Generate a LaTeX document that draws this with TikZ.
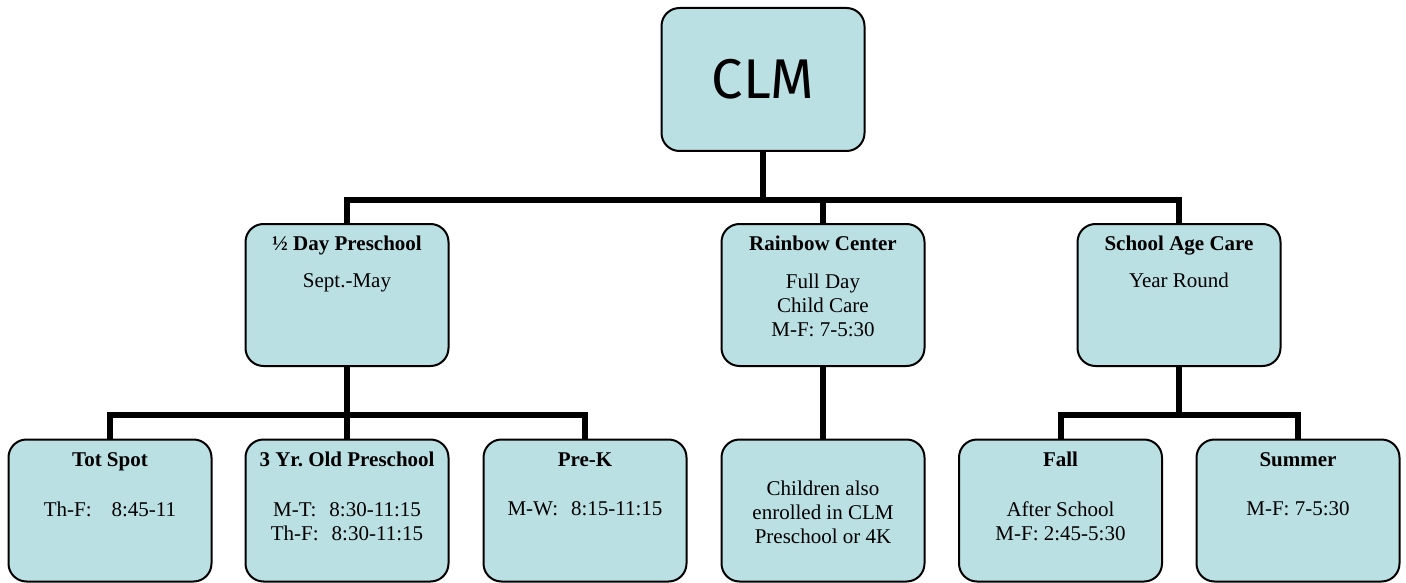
\documentclass[tikz,border=0pt]{standalone}
\usepackage{fontspec}
\setmainfont{Liberation Serif}
\newfontfamily\clmfont{Fira Sans}
\definecolor{boxfill}{RGB}{187,224,227}
\frenchspacing
\begin{document}
\begin{tikzpicture}[x=1pt,y=-1pt,
  box/.style={draw=black, line width=2pt, fill=boxfill, rounded corners=18pt,
    minimum width=203pt, minimum height=142pt, inner sep=0pt},
  bar/.style={line width=6pt, draw=black},
  ttl/.style={font=\fontsize{21}{24}\selectfont\bfseries, inner sep=0pt, anchor=base},
  body/.style={font=\fontsize{21}{24}\selectfont, inner sep=0pt, anchor=base, align=center}]
\useasboundingbox (0,0) rectangle (1406,583);
% boxes
\node[box, minimum height=143pt] (clm) at (763,79.5) {\clmfont\fontsize{56}{60}\selectfont CLM};
\node[box] (half) at (347,295) {};
\node[box] (rc) at (823,295) {};
\node[box] (sac) at (1179,295) {};
\node[box] (tot) at (110,510.5) {};
\node[box] (three) at (347,510.5) {};
\node[box] (prek) at (585,510.5) {};
\node[box] (kids) at (823,510.5) {};
\node[box] (fall) at (1060.5,510.5) {};
\node[box] (summer) at (1298,510.5) {};
% texts (base = baseline of the last line)
\node[ttl] (halfT) at (347,250) {½ Day Preschool};
\node[body] (halfB) at (347,287) {Sept.-May};
\node[ttl] (rcT) at (823,250) {Rainbow Center};
\node[body] (rcB) at (823,336) {Full Day\\Child Care\\M-F: 7-5:30};
\node[ttl] (sacT) at (1179,250) {School Age Care};
\node[body] (sacB) at (1179,287) {Year Round};
\node[ttl] (totT) at (110,466) {Tot Spot};
\node[body] (totB) at (110,516) {Th-F:\hspace{20pt}8:45-11};
\node[ttl] (threeT) at (347,466) {3 Yr. Old Preschool};
\node[body] (threeB) at (347,540) {M-T:\hspace{13pt}8:30-11:15\\Th-F:\hspace{13pt}8:30-11:15};
\node[ttl] (prekT) at (585,466) {Pre-K};
\node[body] (prekB) at (585,515) {M-W:\hspace{13pt}8:15-11:15};
\node[body] (kidsB) at (823,543) {Children also\\enrolled in CLM\\Preschool or 4K};
\node[ttl] (fallT) at (1060.5,466) {Fall};
\node[body] (fallB) at (1060.5,540) {After School\\M-F: 2:45-5:30};
\node[ttl] (summerT) at (1298,466) {Summer};
\node[body] (summerB) at (1298,515) {M-F: 7-5:30};
% connectors
\coordinate (j1) at (763,200);
\coordinate (j2) at (347,415);
\coordinate (j3) at (1179,415);
\draw[bar] (clm.south) -- (j1);
\draw[bar] (half.north) |- (j1) -| (sac.north);
\draw[bar] (rc.north) -- (rc.north |- j1);
\draw[bar] (half.south) -- (j2);
\draw[bar] (tot.north) |- (j2) -| (prek.north);
\draw[bar] (three.north) -- (three.north |- j2);
\draw[bar] (rc.south) -- (kids.north);
\draw[bar] (sac.south) -- (j3);
\draw[bar] (fall.north) |- (j3) -| (summer.north);
\end{tikzpicture}
\end{document}
